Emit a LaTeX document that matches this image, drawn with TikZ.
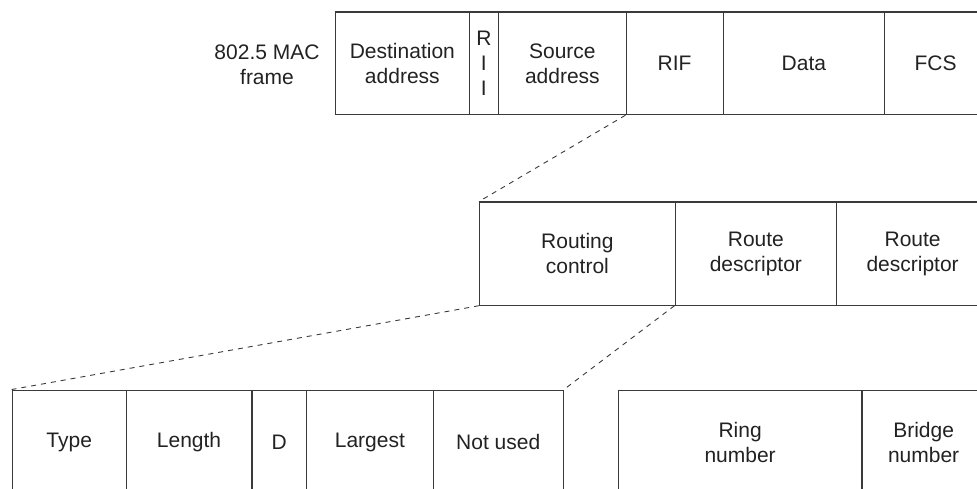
\documentclass[tikz,border=0pt]{standalone}
\usepackage{fontspec}
\setmainfont{Liberation Sans}
\definecolor{linec}{HTML}{3A3A3A}
\definecolor{textc}{HTML}{222222}
\tikzset{
  field/.style={draw=linec, line width=1.2pt, anchor=north west, inner sep=0pt,
    align=center, text=textc, font=\fontsize{21}{25}\selectfont},
  lbl/.style={align=center, text=textc, inner sep=0pt, font=\fontsize{21}{25}\selectfont},
  conn/.style={draw=linec, line width=0.9pt, dash pattern=on 5pt off 5pt}
}
\begin{document}
\begin{tikzpicture}[x=1pt, y=-1pt]
\useasboundingbox (0,0) rectangle (977,489);
% top row
\node[lbl] (title) at (267,64.5) {802.5 MAC\\frame};
\node[field, minimum width=133.5pt, minimum height=102.5pt] (dest) at (335,11.5) {Destination\\address};
\node[field, minimum width=29.5pt, minimum height=102.5pt] (rii) at (468.5,11.5) {R\\I\\I};
\node[field, minimum width=127.5pt, minimum height=102.5pt] (src) at (498,11.5) {Source\\address};
\node[field, minimum width=97pt, minimum height=102.5pt] (rif) at (625.5,11.5) {RIF};
\node[field, minimum width=161.5pt, minimum height=102.5pt] (data) at (722.5,11.5) {Data};
\node[field, minimum width=102pt, minimum height=102.5pt] (fcs) at (884,11.5) {FCS};
% middle row
\node[field, minimum width=195.5pt, minimum height=103pt] (rc) at (479,201.5) {Routing\\control};
\node[field, minimum width=161.5pt, minimum height=103pt] (rd1) at (674.5,201.5) {Route\\descriptor};
\node[field, minimum width=152pt, minimum height=103pt] (rd2) at (836,201.5) {Route\\descriptor};
% bottom row
\node[field, minimum width=113.8pt, minimum height=104pt] (type) at (11.7,389.5) {Type};
\node[field, minimum width=125.9pt, minimum height=104pt] (length) at (125.5,389.5) {Length};
\node[field, minimum width=54.6pt, minimum height=104pt] (dbit) at (251.4,389.5) {D};
\node[field, minimum width=126.5pt, minimum height=104pt] (largest) at (306,389.5) {Largest};
\node[field, minimum width=130.2pt, minimum height=104pt] (notused) at (432.5,389.5) {Not used};
\node[field, minimum width=243.6pt, minimum height=104pt] (ring) at (617.7,389.5) {Ring\\number};
\node[field, minimum width=123.4pt, minimum height=104pt] (bridge) at (861.3,389.5) {Bridge\\number};
% connectors
\draw[conn] (rif.south west) -- (rc.north west);
\draw[conn] (rc.south west) -- (type.north west);
\draw[conn] (rd1.south west) -- (notused.north east);
\end{tikzpicture}
\end{document}
